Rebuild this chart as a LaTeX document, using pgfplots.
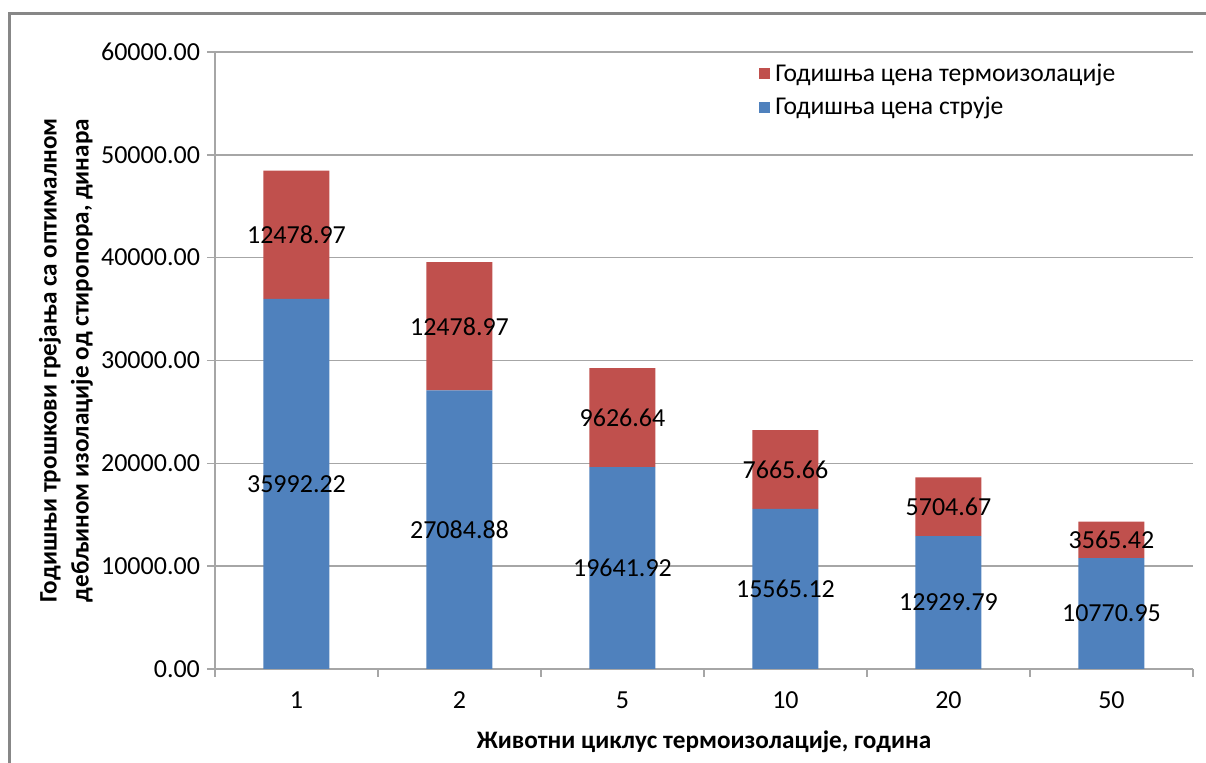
\documentclass[border=0pt]{standalone}
\usepackage{pgfplots}
\pgfplotsset{compat=1.18}
\usepackage{fontspec}
\setmainfont{Carlito}
\definecolor{cblue}{HTML}{4F81BD}
\definecolor{cred}{HTML}{C0504D}
\definecolor{gridc}{HTML}{A6A6A6}
\definecolor{framec}{HTML}{878787}
\begin{document}
\begin{tikzpicture}
\useasboundingbox (0,0) rectangle (603pt,-381.5pt);
\draw[framec, line width=1.5pt] (4.5pt,-420pt) -- (4.5pt,-7pt) -- (640pt,-7pt);
\begin{axis}[
  at={(107.5pt,-334.5pt)}, anchor=south west,
  width=489pt, height=308.5pt, scale only axis,
  ybar stacked, bar width=33pt,
  xmin=-0.5, xmax=5.5, ymin=0, ymax=60000,
  xtick={0,...,5}, xticklabels={1,2,5,10,20,50},
  minor xtick={-0.5,0.5,...,5.5},
  ytick={0,10000,...,60000},
  scaled y ticks=false,
  ymajorgrids, major grid style={gridc, line width=0.75pt},
  axis x line*=bottom, axis y line*=left,
  axis line style={gridc, line width=0.75pt},
  tick align=outside,
  major tick length=4pt, minor tick length=4pt,
  major x tick style={draw=none},
  minor x tick style={gridc, line width=0.75pt},
  ytick style={gridc, line width=0.75pt},
  /pgf/number format/assume math mode=true,
  tick label style={font=\fontsize{13}{15}\selectfont, text=black},
  yticklabel style={/pgf/number format/fixed, /pgf/number format/fixed zerofill, /pgf/number format/precision=2, /pgf/number format/1000 sep={}},
  xticklabel style={yshift=-4pt},
  xlabel={Животни циклус термоизолације, година},
  ylabel={Годишњи трошкови грејања са оптималном\\дебљином изолације од стиропора, динара},
  label style={font=\bfseries\fontsize{12.6}{16}\selectfont, text=black},
  ylabel style={align=center, at={(axis description cs:-0.1524,0.5)}, anchor=center},
  xlabel style={at={(axis description cs:0.5,-0.118)}, anchor=center},
  legend style={draw=none, fill=none, at={(0.55,0.995)}, anchor=north west,
    font=\fontsize{12.8}{15}\selectfont, row sep=2.5pt, legend cell align=left,
    nodes={inner xsep=2.5pt}},
  reverse legend,
  legend image code/.code={\fill[#1] (0pt,-2.6pt) rectangle (5.5pt,2.9pt);},
  point meta=rawy,
  nodes near coords={\pgfmathprintnumber[fixed,fixed zerofill,precision=2,1000 sep={}]{\pgfplotspointmeta}},
  every node near coord/.append style={font=\fontsize{13}{15}\selectfont, text=black, anchor=center},
]
\addplot[fill=cblue, draw=none] coordinates {(0,35992.22) (1,27084.88) (2,19641.92) (3,15565.12) (4,12929.79) (5,10770.95)};
\addplot[fill=cred, draw=none] coordinates {(0,12478.97) (1,12478.97) (2,9626.64) (3,7665.66) (4,5704.67) (5,3565.42)};
\legend{Годишња цена струје, Годишња цена термоизолације}
\end{axis}
\end{tikzpicture}
\end{document}
